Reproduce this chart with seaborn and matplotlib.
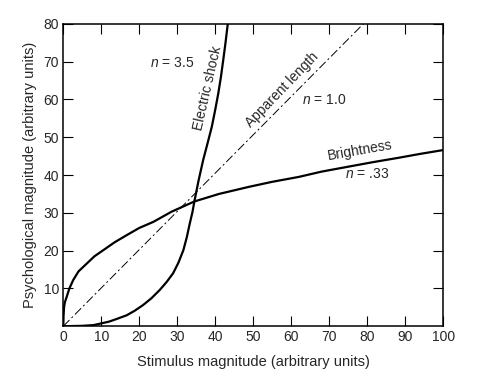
import matplotlib
matplotlib.use("Agg")
import matplotlib.pyplot as plt
import seaborn as sns

# values (Stevens' power functions)
shock_x = [0, 5, 8, 12, 14, 16.7, 18.8, 21, 23.2, 25.4, 27.2, 28.9, 30.3, 31.6, 32.5, 33.3,
           34, 34.5, 35.6, 36.8, 38, 39.1, 40, 40.8, 41.5, 42.1, 42.7, 43.3]
shock_y = [0, 0.1, 0.3, 1.2, 1.9, 2.9, 4.1, 5.6, 7.4, 9.6, 11.7, 14, 16.8, 20.1, 23.5, 27.2,
           30.2, 33, 38.5, 43.9, 48.5, 52.8, 57.3, 61.6, 66, 70.4, 75, 80]

bright_x = [0, 0.05, 0.2, 0.4, 0.9, 1.6, 2.6, 4, 6.2, 8.2, 10.5, 13.5, 16.7, 20, 23.7, 28.5,
            34.5, 41, 49, 55, 62, 68, 75, 81.5, 88.5, 94, 100]
bright_y = [0, 2.5, 5, 6.3, 7.8, 10, 12.2, 14.5, 16.6, 18.5, 20.1, 22.2, 24.1, 26, 27.6, 30.3,
            33, 35, 36.9, 38.2, 39.5, 40.9, 42.2, 43.4, 44.6, 45.6, 46.6]

length_x = [0, 79]
length_y = [0, 80]

x_ticks = [0, 10, 20, 30, 40, 50, 60, 70, 80, 90, 100]
y_ticks = [10, 20, 30, 40, 50, 60, 70, 80]

sns.set_style("ticks")
plt.rcParams["font.family"] = ["Liberation Sans", "DejaVu Sans"]
plt.rcParams["mathtext.fontset"] = "custom"
plt.rcParams["mathtext.it"] = "Liberation Sans:italic"
plt.rcParams["mathtext.rm"] = "Liberation Sans"

fig = plt.figure(figsize=(4.87, 3.78), dpi=100)
ax = fig.add_axes([0.13, 0.137, 0.78, 0.8])

sns.lineplot(x=shock_x, y=shock_y, sort=False, estimator=None, color="black", lw=1.6, ax=ax)
sns.lineplot(x=bright_x, y=bright_y, sort=False, estimator=None, color="black", lw=1.6, ax=ax)
sns.lineplot(x=length_x, y=length_y, sort=False, estimator=None, color="black", lw=0.7,
             linestyle=(0, (9, 3, 2, 3)), ax=ax)

ax.set_xlim(0, 100)
ax.set_ylim(0, 80)
ax.set_xticks(x_ticks)
ax.set_yticks(y_ticks)
ax.tick_params(direction="in", top=True, right=True, length=7, width=0.8,
               labelsize=10, pad=3, color="black")
for s in ax.spines.values():
    s.set_linewidth(1.1)
    s.set_color("black")

ax.set_xlabel("Stimulus magnitude (arbitrary units)", fontsize=10.5, labelpad=8)
ax.set_ylabel("Psychological magnitude (arbitrary units)", fontsize=10.5, labelpad=5)

fs = 10
ax.text(28.6, 69.7, r"$n$ = 3.5", fontsize=fs, ha="center", va="center")
ax.text(38.0, 63, "Electric shock", fontsize=fs, ha="center", va="center", rotation=77)
ax.text(57.6, 62.6, "Apparent length", fontsize=fs, ha="center", va="center", rotation=46)
ax.text(68.7, 59.8, r"$n$ = 1.0", fontsize=fs, ha="center", va="center")
ax.text(78.0, 46.6, "Brightness", fontsize=fs, ha="center", va="center", rotation=10)
ax.text(79.9, 40.2, r"$n$ = .33", fontsize=fs, ha="center", va="center")

fig.savefig("out.png", dpi=100)
